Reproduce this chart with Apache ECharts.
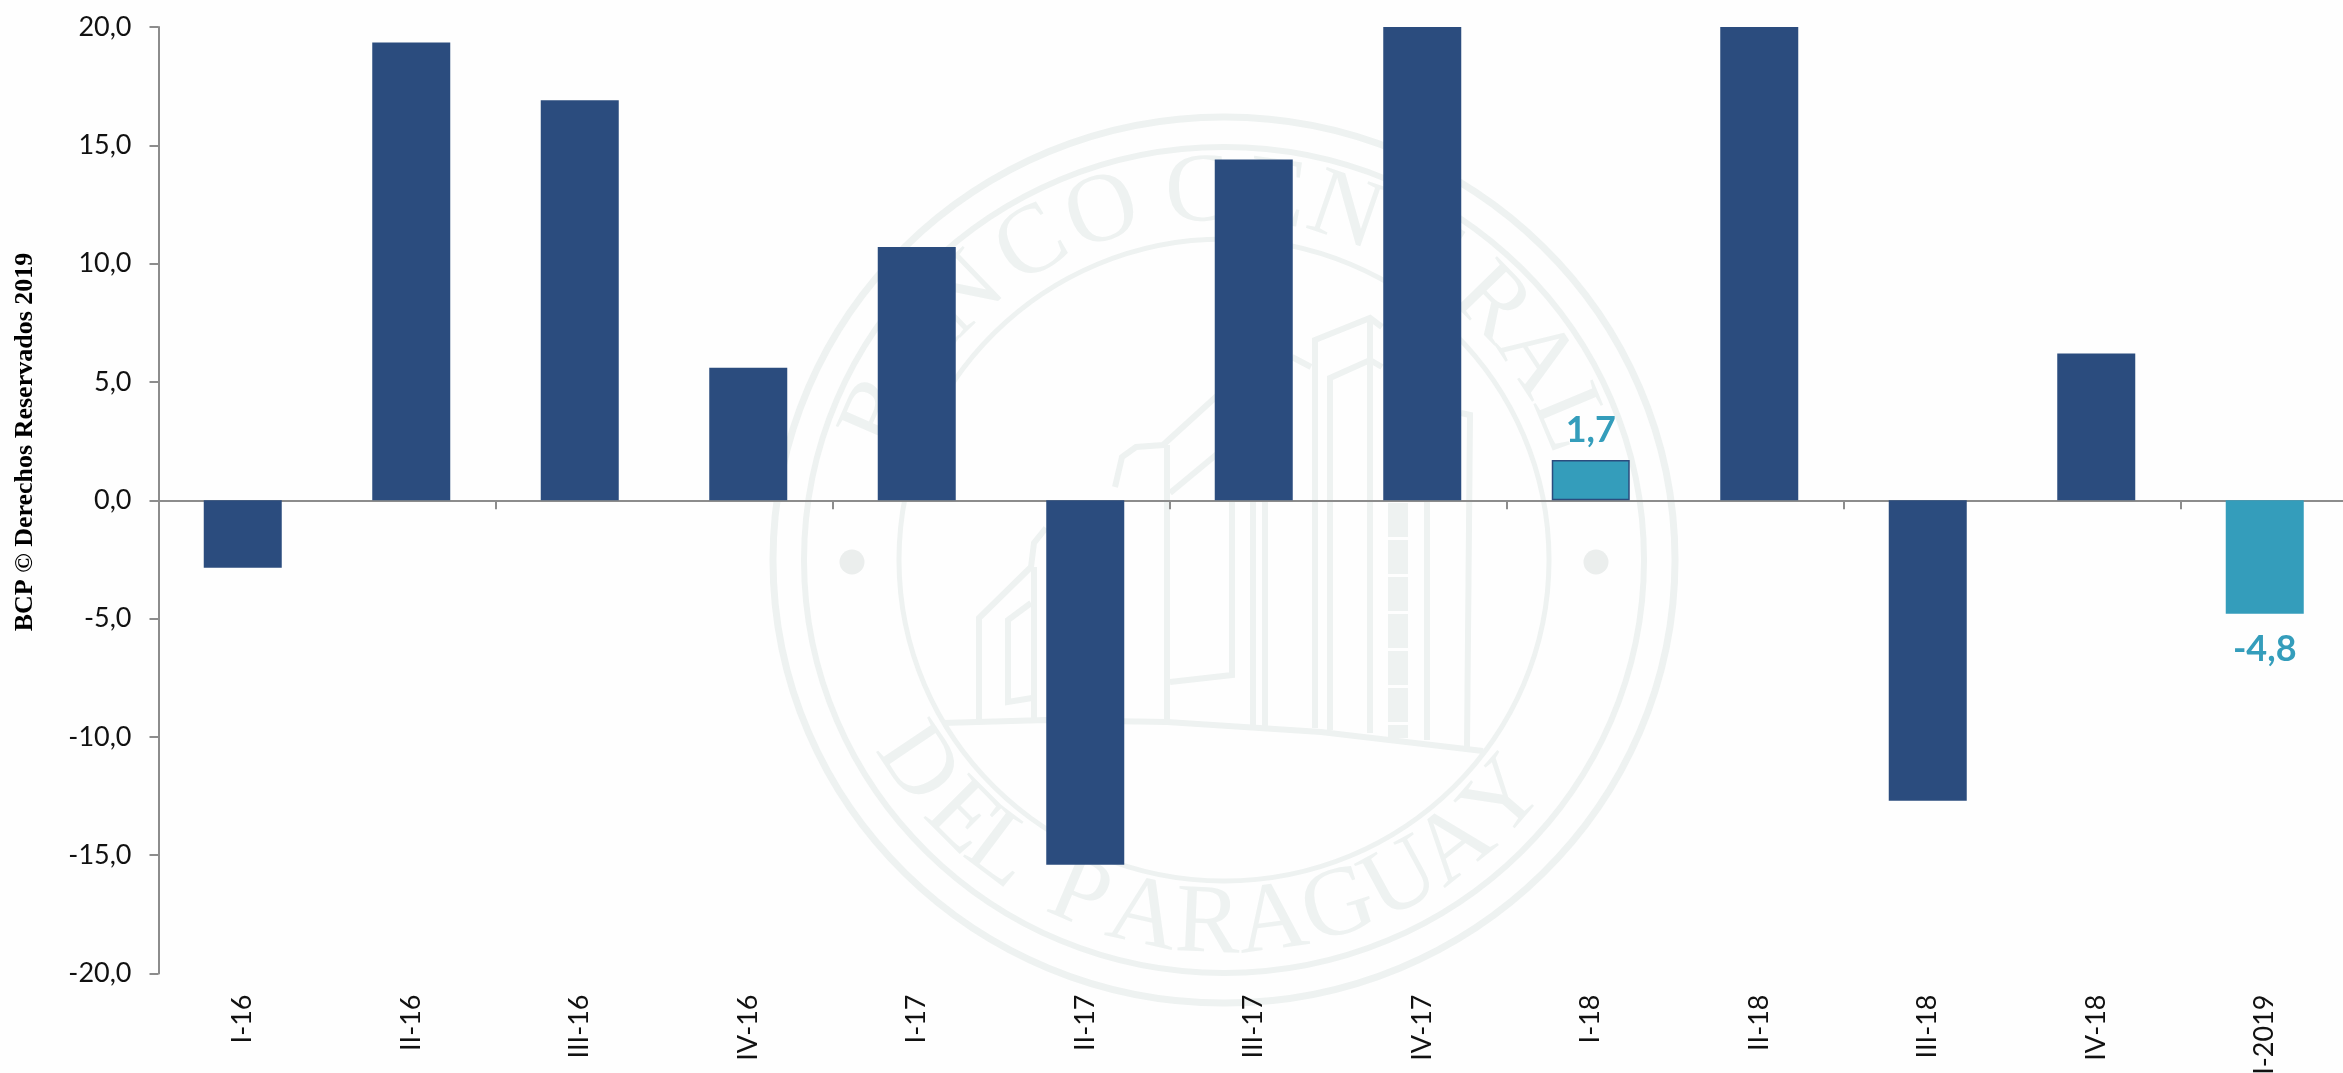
<!DOCTYPE html>
<html>
<head>
<meta charset="utf-8">
<style>
    html, body { margin: 0; padding: 0; background: #fefefe; overflow: hidden; }
    #main { width: 2343px; height: 1073px; }
</style>
<script src="https://cdn.jsdelivr.net/npm/echarts@6/dist/echarts.min.js"></script>
</head>
<body>
<div id="main"></div>
<script type="text/javascript">

    var categories = ['I-16', 'II-16', 'III-16', 'IV-16', 'I-17', 'II-17', 'III-17', 'IV-17', 'I-18', 'II-18', 'III-18', 'IV-18', 'I-2019'];
    var values = [-2.85, 19.35, 16.9, 5.6, 10.7, -15.4, 14.4, 20, 1.7, 20, -12.7, 6.2, -4.8];
    var highlighted = ['I-18', 'I-2019'];
    var copyright = 'BCP © Derechos Reservados 2019';

    var darkBlue = '#2b4c7e';
    var teal = '#349dbb';
    var axisGrey = '#8c8c8c';
    var sealColor = '#eef2f1';
    var labelFont = 'Lato';

    // watermark: letters of the seal with their angle in degrees
    var sealTop = [['B', -66.5], ['A', -55], ['N', -44], ['C', -31], ['O', -19], ['C', -4], ['E', 8], ['N', 19], ['T', 32], ['R', 45.7], ['A', 56.6], ['L', 67.4]];
    var sealBottom = [['D', 56], ['E', 45], ['L', 37], ['P', 23], ['A', 12.5], ['R', 2.5], ['A', -7.5], ['G', -18], ['U', -28.5], ['A', -38.5], ['Y', -49]];
    var sealRings = [[451, 443, 7], [420, 413, 6], [325, 321, 5]];
    var sealLines = [
        [[943, 723], [1046, 720], [1167, 722], [1321, 732], [1483, 751]],
        [[979, 722], [979, 618], [1031, 567], [1034, 543], [1046, 528]],
        [[1115, 487], [1122, 457], [1136, 447], [1163, 445], [1240, 375]],
        [[1167, 445], [1167, 722]],
        [[1170, 493], [1240, 435]],
        [[1032, 698], [1008, 702], [1008, 620], [1031, 603]],
        [[1034, 567], [1034, 720]],
        [[1170, 682], [1232, 675], [1232, 500]],
        [[1253, 500], [1253, 726]],
        [[1265, 500], [1265, 726]],
        [[1292, 357], [1311, 367]],
        [[1315, 728], [1315, 340], [1370, 318], [1382, 327]],
        [[1330, 730], [1330, 378], [1370, 360], [1382, 367]],
        [[1370, 318], [1370, 733]],
        [[1427, 500], [1427, 740]],
        [[1461, 413], [1470, 415], [1467, 747]]
    ];

    function sealLetter(ch, x, y, deg) {
        return {
            type: 'text', x: x, y: y, z: -1, rotation: -deg * Math.PI / 180,
            style: { text: ch, fill: sealColor, font: '98px "Liberation Serif"', align: 'center', verticalAlign: 'middle' }
        };
    }

    function buildSeal() {
        var cx = 1224, cy = 560, items = [];
        sealRings.forEach(function (r) {
            items.push({ type: 'ellipse', z: -1, shape: { cx: cx, cy: cy, rx: r[0], ry: r[1] }, style: { fill: null, stroke: sealColor, lineWidth: r[2] } });
        });
        [852, 1596].forEach(function (x) {
            items.push({ type: 'circle', z: -1, shape: { cx: x, cy: 562, r: 12.5 }, style: { fill: '#ebeeed' } });
        });
        sealLines.forEach(function (pts) {
            items.push({ type: 'polyline', z: -1, shape: { points: pts }, style: { fill: null, stroke: sealColor, lineWidth: 6 } });
        });
        // ornate strip of the facade
        items.push({ type: 'line', z: -1, shape: { x1: 1398, y1: 503, x2: 1398, y2: 738 }, style: { stroke: sealColor, lineWidth: 20, lineDash: [34, 3] } });
        sealTop.forEach(function (l) {
            var a = l[1] * Math.PI / 180;
            items.push(sealLetter(l[0], cx + 372 * Math.sin(a), cy - 366 * Math.cos(a), l[1]));
        });
        sealBottom.forEach(function (l) {
            var a = l[1] * Math.PI / 180;
            items.push(sealLetter(l[0], cx - 372 * Math.sin(a), cy + 366 * Math.cos(a), l[1]));
        });
        items.push({
            type: 'text', x: 25, y: 442, rotation: Math.PI / 2,
            style: { text: copyright, fill: '#000', font: 'bold 26px "Liberation Serif"', align: 'center', verticalAlign: 'middle' }
        });
        return items;
    }

    function barData() {
        return values.map(function (v, i) {
            var hi = highlighted.indexOf(categories[i]) >= 0;
            return {
                value: v,
                itemStyle: {
                    color: hi ? teal : darkBlue,
                    borderColor: categories[i] === 'I-18' ? darkBlue : null,
                    borderWidth: categories[i] === 'I-18' ? 1.5 : 0
                },
                label: {
                    show: hi,
                    color: teal,
                    fontFamily: labelFont,
                    fontWeight: 'bold',
                    fontSize: 36,
                    distance: v < 0 ? 18 : 12,
                    position: v < 0 ? 'bottom' : 'top',
                    formatter: function (p) { return String(p.value).replace('.', ','); }
                }
            };
        });
    }

    var chart = echarts.init(document.getElementById('main'));
    chart.setOption({
        backgroundColor: '#fefefe',
        animation: false,
        graphic: { elements: buildSeal() },
        grid: { left: 158.5, top: 27, width: 2190.5, height: 946.5, containLabel: false, outerBoundsMode: 'none' },
        xAxis: [
            {
                type: 'category',
                data: categories,
                axisLine: { onZero: true, lineStyle: { color: axisGrey, width: 2 } },
                axisTick: { show: true, interval: 1, length: 9, lineStyle: { color: axisGrey, width: 2 } },
                axisLabel: { show: false }
            },
            {
                type: 'category',
                data: categories,
                position: 'bottom',
                axisLine: { show: false, onZero: false },
                axisTick: { show: false },
                axisLabel: { show: true, interval: 0, rotate: 90, margin: 21, color: '#111', fontFamily: labelFont, fontSize: 27 }
            }
        ],
        yAxis: {
            type: 'value',
            min: -20,
            max: 20,
            interval: 5,
            splitLine: { show: false },
            axisLine: { show: true, onZero: false, lineStyle: { color: axisGrey, width: 2 } },
            axisTick: { show: true, length: 9, lineStyle: { color: axisGrey, width: 2 } },
            axisLabel: {
                margin: 27,
                color: '#111',
                fontFamily: labelFont,
                fontSize: 27,
                formatter: function (v) { return v.toFixed(1).replace('.', ','); }
            }
        },
        series: [
            { type: 'bar', xAxisIndex: 0, barWidth: 78, data: barData() }
        ]
    });

</script>
</body>
</html>
